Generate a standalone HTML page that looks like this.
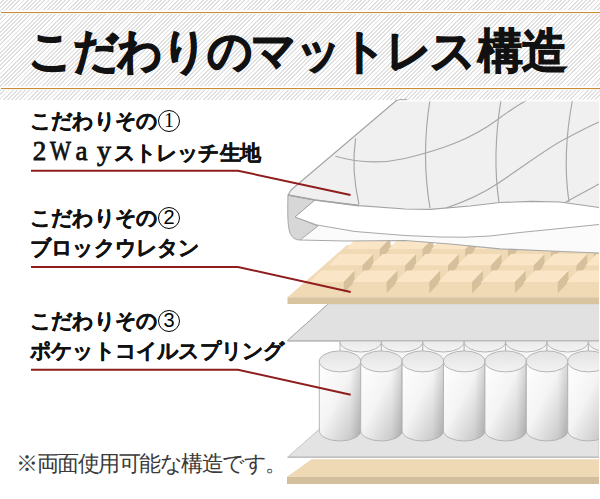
<!DOCTYPE html>
<html lang="ja">
<head>
<meta charset="utf-8">
<style>
html,body{margin:0;padding:0;background:#fff;}
body{width:600px;height:499px;overflow:hidden;position:relative;font-family:"Liberation Sans",sans-serif;}
#hdr{position:absolute;left:0;top:0;width:600px;height:99.5px;
 background:repeating-linear-gradient(135deg,#fff 0px,#fff 1.6px,#e0e0e0 1.6px,#e0e0e0 2.946px);}
.ol{position:absolute;left:1px;width:599px;height:1px;background:#c98c34;box-shadow:0 -1px 0 #fff,0 1px 0 #fbf6ee,0 -2px 0 #fafafa;}
.t{position:absolute;white-space:nowrap;color:#111;}
#title{left:28px;top:24.5px;font-size:47px;letter-spacing:-1.2px;transform:scaleX(0.955);transform-origin:0 0;font-weight:bold;line-height:52px;-webkit-text-stroke:1.2px #111;color:#111;}
.lb{font-size:21px;font-weight:bold;line-height:30px;left:30px;letter-spacing:-0.8px;-webkit-text-stroke:0.3px #111;}
.cn{-webkit-text-stroke:0;}
.sf{-webkit-text-stroke:0.8px #111;}
.cn{display:inline-block;box-sizing:border-box;width:22.5px;height:22.5px;border:1.6px solid #000;border-radius:50%;font-weight:normal;font-size:20px;line-height:19.5px;text-align:center;letter-spacing:0;vertical-align:1.2px;margin-left:0.5px;color:#000;}
.c1{font-family:"Liberation Serif",serif;}
.sf{display:inline-block;width:20.9px;text-align:center;font-family:"Liberation Serif",serif;font-weight:normal;font-size:27px;letter-spacing:0;}
.sw{transform:scaleX(0.82);}
#note{left:16px;top:449px;font-size:22px;line-height:30px;color:#3a3a3a;letter-spacing:-1.5px;}
svg{position:absolute;left:0;top:0;}
</style>
</head>
<body>
<div id="hdr"></div>
<div class="ol" style="top:12px"></div>
<div class="ol" style="top:88px"></div>
<div class="t" id="title">こだわりのマットレス<span style="margin-left:3.5px">構造</span></div>

<svg width="600" height="499" viewBox="0 0 600 499">
<defs>
<linearGradient id="cyl" x1="0" y1="0" x2="1" y2="1">
<stop offset="0" stop-color="#ffffff"/><stop offset="0.45" stop-color="#f4f4f4"/><stop offset="1" stop-color="#bdbdbd"/></linearGradient>
<linearGradient id="cylh" x1="0" y1="0" x2="1" y2="0">
<stop offset="0" stop-color="#ffffff" stop-opacity="0"/><stop offset="0.75" stop-color="#000" stop-opacity="0"/><stop offset="1" stop-color="#000" stop-opacity="0.10"/></linearGradient>
<linearGradient id="cap" x1="0" y1="0" x2="0" y2="1">
<stop offset="0" stop-color="#e2e2e2"/><stop offset="1" stop-color="#f3f3f3"/></linearGradient>
</defs>
<polygon points="287,476.8 311.6,459.3 599,459.3 599,476.8" fill="#efd9b5"/>
<polygon points="287,476.8 599,476.8 599,484 287,484" fill="#d4bf9c"/>
<polygon points="287.7,457.2 318.6,429.8 599,429.8 599,457.2" fill="#e3e3e3" stroke="#c4c4c4" stroke-width="1" stroke-linejoin="round"/>
<line x1="287.7" y1="457.2" x2="599" y2="457.2" stroke="#bfbfbf" stroke-width="1.6"/>
<polygon points="287.6,340.5 327.8,304.3 599,304.3 599,340.5" fill="#e1e1e1" stroke="#bdbdbd" stroke-width="1" stroke-linejoin="round"/>
<line x1="287.6" y1="340.8" x2="599" y2="340.8" stroke="#bbbbbb" stroke-width="1.4"/>
<rect x="340" y="341.5" width="41.4" height="30" fill="#f6f6f6" stroke="#b5b5b5" stroke-width="1"/>
<ellipse cx="360.7" cy="341.5" rx="20.7" ry="10.5" fill="url(#cap)" stroke="#b5b5b5" stroke-width="1"/>
<rect x="381.4" y="341.5" width="41.4" height="30" fill="#f6f6f6" stroke="#b5b5b5" stroke-width="1"/>
<ellipse cx="402.1" cy="341.5" rx="20.7" ry="10.5" fill="url(#cap)" stroke="#b5b5b5" stroke-width="1"/>
<rect x="422.8" y="341.5" width="41.4" height="30" fill="#f6f6f6" stroke="#b5b5b5" stroke-width="1"/>
<ellipse cx="443.5" cy="341.5" rx="20.7" ry="10.5" fill="url(#cap)" stroke="#b5b5b5" stroke-width="1"/>
<rect x="464.2" y="341.5" width="41.4" height="30" fill="#f6f6f6" stroke="#b5b5b5" stroke-width="1"/>
<ellipse cx="484.9" cy="341.5" rx="20.7" ry="10.5" fill="url(#cap)" stroke="#b5b5b5" stroke-width="1"/>
<rect x="505.6" y="341.5" width="41.4" height="30" fill="#f6f6f6" stroke="#b5b5b5" stroke-width="1"/>
<ellipse cx="526.3" cy="341.5" rx="20.7" ry="10.5" fill="url(#cap)" stroke="#b5b5b5" stroke-width="1"/>
<rect x="547" y="341.5" width="41.4" height="30" fill="#f6f6f6" stroke="#b5b5b5" stroke-width="1"/>
<ellipse cx="567.7" cy="341.5" rx="20.7" ry="10.5" fill="url(#cap)" stroke="#b5b5b5" stroke-width="1"/>
<rect x="588.4" y="341.5" width="41.4" height="30" fill="#f6f6f6" stroke="#b5b5b5" stroke-width="1"/>
<ellipse cx="609.1" cy="341.5" rx="20.7" ry="10.5" fill="url(#cap)" stroke="#b5b5b5" stroke-width="1"/>
<polygon points="287.6,340.5 327.8,304.3 599,304.3 599,340.5" fill="#e1e1e1"/>
<line x1="287.6" y1="340.8" x2="599" y2="340.8" stroke="#bbbbbb" stroke-width="1.4"/>
<line x1="287.6" y1="340.5" x2="327.8" y2="304.3" stroke="#a9a9a9" stroke-width="1"/>
<path d="M319.3,361.4 L319.3,430.5 A20.7,10.5 0 0 0 360.7,430.5 L360.7,361.4 Z" fill="url(#cyl)" stroke="#b5b5b5" stroke-width="1"/>
<path d="M319.3,361.4 L319.3,430.5 A20.7,10.5 0 0 0 360.7,430.5 L360.7,361.4 Z" fill="url(#cylh)"/>
<ellipse cx="340" cy="361.4" rx="20.7" ry="10.5" fill="url(#cap)" stroke="#b5b5b5" stroke-width="1"/>
<path d="M360.7,361.4 L360.7,430.5 A20.7,10.5 0 0 0 402.1,430.5 L402.1,361.4 Z" fill="url(#cyl)" stroke="#b5b5b5" stroke-width="1"/>
<path d="M360.7,361.4 L360.7,430.5 A20.7,10.5 0 0 0 402.1,430.5 L402.1,361.4 Z" fill="url(#cylh)"/>
<ellipse cx="381.4" cy="361.4" rx="20.7" ry="10.5" fill="url(#cap)" stroke="#b5b5b5" stroke-width="1"/>
<path d="M402.1,361.4 L402.1,430.5 A20.7,10.5 0 0 0 443.5,430.5 L443.5,361.4 Z" fill="url(#cyl)" stroke="#b5b5b5" stroke-width="1"/>
<path d="M402.1,361.4 L402.1,430.5 A20.7,10.5 0 0 0 443.5,430.5 L443.5,361.4 Z" fill="url(#cylh)"/>
<ellipse cx="422.8" cy="361.4" rx="20.7" ry="10.5" fill="url(#cap)" stroke="#b5b5b5" stroke-width="1"/>
<path d="M443.5,361.4 L443.5,430.5 A20.7,10.5 0 0 0 484.9,430.5 L484.9,361.4 Z" fill="url(#cyl)" stroke="#b5b5b5" stroke-width="1"/>
<path d="M443.5,361.4 L443.5,430.5 A20.7,10.5 0 0 0 484.9,430.5 L484.9,361.4 Z" fill="url(#cylh)"/>
<ellipse cx="464.2" cy="361.4" rx="20.7" ry="10.5" fill="url(#cap)" stroke="#b5b5b5" stroke-width="1"/>
<path d="M484.9,361.4 L484.9,430.5 A20.7,10.5 0 0 0 526.3,430.5 L526.3,361.4 Z" fill="url(#cyl)" stroke="#b5b5b5" stroke-width="1"/>
<path d="M484.9,361.4 L484.9,430.5 A20.7,10.5 0 0 0 526.3,430.5 L526.3,361.4 Z" fill="url(#cylh)"/>
<ellipse cx="505.6" cy="361.4" rx="20.7" ry="10.5" fill="url(#cap)" stroke="#b5b5b5" stroke-width="1"/>
<path d="M526.3,361.4 L526.3,430.5 A20.7,10.5 0 0 0 567.7,430.5 L567.7,361.4 Z" fill="url(#cyl)" stroke="#b5b5b5" stroke-width="1"/>
<path d="M526.3,361.4 L526.3,430.5 A20.7,10.5 0 0 0 567.7,430.5 L567.7,361.4 Z" fill="url(#cylh)"/>
<ellipse cx="547" cy="361.4" rx="20.7" ry="10.5" fill="url(#cap)" stroke="#b5b5b5" stroke-width="1"/>
<path d="M567.7,361.4 L567.7,430.5 A20.7,10.5 0 0 0 609.1,430.5 L609.1,361.4 Z" fill="url(#cyl)" stroke="#b5b5b5" stroke-width="1"/>
<path d="M567.7,361.4 L567.7,430.5 A20.7,10.5 0 0 0 609.1,430.5 L609.1,361.4 Z" fill="url(#cylh)"/>
<ellipse cx="588.4" cy="361.4" rx="20.7" ry="10.5" fill="url(#cap)" stroke="#b5b5b5" stroke-width="1"/>
<rect x="599" y="300" width="1" height="199" fill="#fff"/>
<polygon points="287.5,297.3 347,245 599,245 599,297.3" fill="#f0dab6"/>
<polygon points="287.5,297.3 599,297.3 599,304 287.5,304" fill="#d9c4a0"/>
<polygon points="379.5,260.5 379.5,249 390.5,237.5 390.5,249" fill="#d6c09c"/>
<polygon points="346,249 379.5,249 390.5,237.5 357,237.5" fill="#fae6c7"/>
<rect x="346" y="249" width="33.5" height="11.5" fill="#f0dab5"/>
<polygon points="422.3,260.5 422.3,249 433.3,237.5 433.3,249" fill="#d6c09c"/>
<polygon points="388.8,249 422.3,249 433.3,237.5 399.8,237.5" fill="#fae6c7"/>
<rect x="388.8" y="249" width="33.5" height="11.5" fill="#f0dab5"/>
<polygon points="465.1,260.5 465.1,249 476.1,237.5 476.1,249" fill="#d6c09c"/>
<polygon points="431.6,249 465.1,249 476.1,237.5 442.6,237.5" fill="#fae6c7"/>
<rect x="431.6" y="249" width="33.5" height="11.5" fill="#f0dab5"/>
<polygon points="507.9,260.5 507.9,249 518.9,237.5 518.9,249" fill="#d6c09c"/>
<polygon points="474.4,249 507.9,249 518.9,237.5 485.4,237.5" fill="#fae6c7"/>
<rect x="474.4" y="249" width="33.5" height="11.5" fill="#f0dab5"/>
<polygon points="550.7,260.5 550.7,249 561.7,237.5 561.7,249" fill="#d6c09c"/>
<polygon points="517.2,249 550.7,249 561.7,237.5 528.2,237.5" fill="#fae6c7"/>
<rect x="517.2" y="249" width="33.5" height="11.5" fill="#f0dab5"/>
<polygon points="593.5,260.5 593.5,249 604.5,237.5 604.5,249" fill="#d6c09c"/>
<polygon points="560,249 593.5,249 604.5,237.5 571,237.5" fill="#fae6c7"/>
<rect x="560" y="249" width="33.5" height="11.5" fill="#f0dab5"/>
<polygon points="362.2,277 362.2,265.5 373.2,254 373.2,265.5" fill="#d6c09c"/>
<polygon points="328.7,265.5 362.2,265.5 373.2,254 339.7,254" fill="#fae6c7"/>
<rect x="328.7" y="265.5" width="33.5" height="11.5" fill="#f0dab5"/>
<polygon points="405,277 405,265.5 416,254 416,265.5" fill="#d6c09c"/>
<polygon points="371.5,265.5 405,265.5 416,254 382.5,254" fill="#fae6c7"/>
<rect x="371.5" y="265.5" width="33.5" height="11.5" fill="#f0dab5"/>
<polygon points="447.8,277 447.8,265.5 458.8,254 458.8,265.5" fill="#d6c09c"/>
<polygon points="414.3,265.5 447.8,265.5 458.8,254 425.3,254" fill="#fae6c7"/>
<rect x="414.3" y="265.5" width="33.5" height="11.5" fill="#f0dab5"/>
<polygon points="490.6,277 490.6,265.5 501.6,254 501.6,265.5" fill="#d6c09c"/>
<polygon points="457.1,265.5 490.6,265.5 501.6,254 468.1,254" fill="#fae6c7"/>
<rect x="457.1" y="265.5" width="33.5" height="11.5" fill="#f0dab5"/>
<polygon points="533.4,277 533.4,265.5 544.4,254 544.4,265.5" fill="#d6c09c"/>
<polygon points="499.9,265.5 533.4,265.5 544.4,254 510.9,254" fill="#fae6c7"/>
<rect x="499.9" y="265.5" width="33.5" height="11.5" fill="#f0dab5"/>
<polygon points="576.2,277 576.2,265.5 587.2,254 587.2,265.5" fill="#d6c09c"/>
<polygon points="542.7,265.5 576.2,265.5 587.2,254 553.7,254" fill="#fae6c7"/>
<rect x="542.7" y="265.5" width="33.5" height="11.5" fill="#f0dab5"/>
<polygon points="619,277 619,265.5 630,254 630,265.5" fill="#d6c09c"/>
<polygon points="585.5,265.5 619,265.5 630,254 596.5,254" fill="#fae6c7"/>
<rect x="585.5" y="265.5" width="33.5" height="11.5" fill="#f0dab5"/>
<polygon points="343.5,293.5 343.5,282 354.5,270.5 354.5,282" fill="#d6c09c"/>
<polygon points="310,282 343.5,282 354.5,270.5 321,270.5" fill="#fae6c7"/>
<rect x="310" y="282" width="33.5" height="11.5" fill="#f0dab5"/>
<polygon points="386.3,293.5 386.3,282 397.3,270.5 397.3,282" fill="#d6c09c"/>
<polygon points="352.8,282 386.3,282 397.3,270.5 363.8,270.5" fill="#fae6c7"/>
<rect x="352.8" y="282" width="33.5" height="11.5" fill="#f0dab5"/>
<polygon points="429.1,293.5 429.1,282 440.1,270.5 440.1,282" fill="#d6c09c"/>
<polygon points="395.6,282 429.1,282 440.1,270.5 406.6,270.5" fill="#fae6c7"/>
<rect x="395.6" y="282" width="33.5" height="11.5" fill="#f0dab5"/>
<polygon points="471.9,293.5 471.9,282 482.9,270.5 482.9,282" fill="#d6c09c"/>
<polygon points="438.4,282 471.9,282 482.9,270.5 449.4,270.5" fill="#fae6c7"/>
<rect x="438.4" y="282" width="33.5" height="11.5" fill="#f0dab5"/>
<polygon points="514.7,293.5 514.7,282 525.7,270.5 525.7,282" fill="#d6c09c"/>
<polygon points="481.2,282 514.7,282 525.7,270.5 492.2,270.5" fill="#fae6c7"/>
<rect x="481.2" y="282" width="33.5" height="11.5" fill="#f0dab5"/>
<polygon points="557.5,293.5 557.5,282 568.5,270.5 568.5,282" fill="#d6c09c"/>
<polygon points="524,282 557.5,282 568.5,270.5 535,270.5" fill="#fae6c7"/>
<rect x="524" y="282" width="33.5" height="11.5" fill="#f0dab5"/>
<polygon points="600.3,293.5 600.3,282 611.3,270.5 611.3,282" fill="#d6c09c"/>
<polygon points="566.8,282 600.3,282 611.3,270.5 577.8,270.5" fill="#fae6c7"/>
<rect x="566.8" y="282" width="33.5" height="11.5" fill="#f0dab5"/>
<rect x="599" y="230" width="1" height="80" fill="#fff"/>
<polygon points="288,195 315,200 359,205.6 405,209 430,209.4 470,206 500,202.5 532,201.4 560,202 599,207.5 599,253 550,251 500,248.8 450,244 405,240.5 345,241 300,240 290,233 287.5,220" fill="#fbfbfb"/>
<path d="M288,195 C287.5,212 287.5,226 290,233 C292,237.5 295,240 300,240 L318,226 L295,217 L315,200 Z" fill="#d7d7d7" stroke="#a8a8a8" stroke-width="1" stroke-linejoin="round"/>
<polygon points="295,217 317,225 355,231.5 405,235.5 440,237 465,237.2 490,236 520,232.5 560,228.5 599,224.5 599,207.5 560,202 532,201.4 500,202.5 470,206 430,209.4 405,209 359,205.6 315,200" fill="#ffffff"/>
<polyline points="295,217 317,225 355,231.5 405,235.5 440,237 465,237.2 490,236 520,232.5 560,228.5 599,224.5" fill="none" stroke="#a8a8a8" stroke-width="1"/>
<polyline points="295,217 315,200" fill="none" stroke="#a8a8a8" stroke-width="1"/>
<polyline points="300,240 345,241 405,240.5 450,244 500,248.8 550,251 599,253" fill="none" stroke="#a8a8a8" stroke-width="1.2"/>
<path d="M397,100 L599,100 L599,207.5 560,202 532,201.4 500,202.5 470,206 430,209.4 405,209 359,205.6 315,200 288,195 L291,190 L397,100 Z" fill="#f0f0f0"/>
<path d="M397,100 L291,190 L288,195 315,200 359,205.6 405,209 430,209.4 470,206 500,202.5 532,201.4 560,202 599,207.5" fill="none" stroke="#a3a3a3" stroke-width="1.1" stroke-linejoin="round"/>
<path d="M288,195 L315,200 L359,205.6" fill="none" stroke="#a3a3a3" stroke-width="1.6"/>
<path d="M355.6,138.4 Q351,170 359,204.5" fill="none" stroke="#a6a6a6" stroke-width="1.15"/>
<path d="M430,100 Q421,155 430,208" fill="none" stroke="#a6a6a6" stroke-width="1.15"/>
<path d="M501,100 Q492,155 499,202.5" fill="none" stroke="#a6a6a6" stroke-width="1.15"/>
<path d="M572.5,100 Q562,155 569,202" fill="none" stroke="#a6a6a6" stroke-width="1.15"/>
<path d="M335.4,156.3 C355,162 380,164 405,158.5 C440,150 470,140 497,120 C510,110 520,104 527,100" fill="none" stroke="#a6a6a6" stroke-width="1.15"/>
<path d="M446,208 C470,200 485,192 497,184 C530,162 550,146 567,138 C580,131 590,126 599,122" fill="none" stroke="#a6a6a6" stroke-width="1.15"/>
<path d="M565,202.5 C578,195 590,189 599,184" fill="none" stroke="#a6a6a6" stroke-width="1.15"/>
<rect x="398" y="99.5" width="202" height="2" fill="#fff" fill-opacity="0.75"/>
<path d="M397,100.5 L400,99.6 L407,99.6" fill="none" stroke="#a8a8a8" stroke-width="1"/>
<rect x="599" y="100" width="1" height="160" fill="#fff"/>
<polyline points="31,170.7 238,170.7 350.5,195" fill="none" stroke="#8f1d1d" stroke-width="2" stroke-linejoin="miter"/>
<polyline points="31,267 238,267 350.7,292" fill="none" stroke="#8f1d1d" stroke-width="2" stroke-linejoin="miter"/>
<polyline points="31,369.7 238,369.7 350.7,394.7" fill="none" stroke="#8f1d1d" stroke-width="2" stroke-linejoin="miter"/>
</svg>

<div class="t lb" style="top:106px">こだわりその<span class="cn c1">1</span><br><span class="sf" style="position:relative;left:-1px">2</span><span class="sf sw" style="position:relative;left:-2.7px">W</span><span class="sf" style="position:relative;left:-0.7px">a</span><span class="sf" style="position:relative;left:0.8px;font-size:28px">y</span>ストレッチ生地</div>
<div class="t lb" style="top:203px">こだわりその<span class="cn">2</span><br>ブロックウレタン</div>
<div class="t lb" style="top:306px">こだわりその<span class="cn">3</span><br>ポケットコイルスプリング</div>
<div class="t" id="note">※両面使用可能な構造です。</div>
</body>
</html>
